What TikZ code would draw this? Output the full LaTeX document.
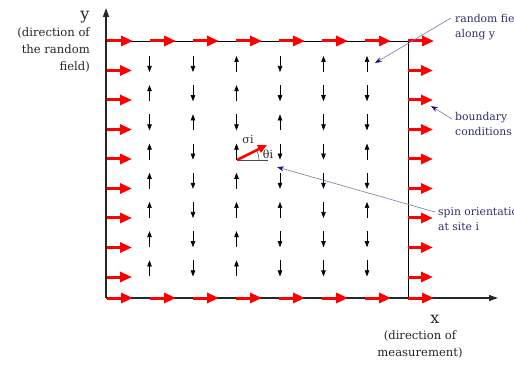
\documentclass[tikz,border=0pt]{standalone}
\usepackage{fontspec}
\setmainfont{DejaVu Serif}
\usetikzlibrary{arrows.meta,positioning}
\definecolor{notetext}{RGB}{45,45,110}
\definecolor{noteline}{RGB}{120,120,170}
\definecolor{notehead}{RGB}{20,20,140}
\tikzset{
  field/.style={draw=red, line width=3pt, -{Triangle[length=12pt,width=10pt]}},
  spin/.style={draw=black, line width=0.6pt, -{Triangle[length=6pt,width=4.5pt]}},
  axis/.style={draw=black!85, line width=1.2pt, -{Triangle[length=9pt,width=6pt]}},
  note/.style={draw=noteline, line width=0.6pt, -{Stealth[length=7pt,width=5pt,color=notehead]}},
  notelbl/.style={text=notetext, align=left, inner sep=0pt, font=\fontsize{10.8}{15.5}\selectfont},
  axislbl/.style={text=black!85, inner sep=0pt, font=\fontsize{11.6}{17}\selectfont},
}

\begin{document}
\begin{tikzpicture}[x=1pt, y=-1pt]
\useasboundingbox (0,0) rectangle (514,366);

%% Axes and the box of the lattice
\coordinate (O) at (106,298);
\coordinate (ytip) at (106,8);
\coordinate (xtip) at (498,298);
\coordinate (tl) at (106,41);
\coordinate (tr) at (408,41);
\coordinate (br) at (408,298);
\draw[axis] (O) -- (ytip);
\draw[axis] (O) -- (xtip);
\draw[black, line width=0.8pt] (tl) -- (tr) -- (br);

%% Boundary field: top and bottom rows
\foreach \k in {0,...,7}{
  \draw[field] ({107+43*\k},41) -- ++(26,0);
  \draw[field] ({107+43*\k},298) -- ++(26,0);
}
%% Boundary field: left and right columns
\foreach \k in {1,...,8}{
  \draw[field] (107,{41+29.5*\k}) -- ++(25,0);
  \draw[field] (408,{41+29.5*\k}) -- ++(25,0);
}

%% Spins on the lattice (1 = up, -1 = down)
\foreach \row [count=\r] in {{-1,-1,1,-1,1,1},{1,-1,1,-1,-1,-1},{-1,1,-1,1,-1,-1},
    {1,-1,1,-1,-1,1},{1,-1,1,-1,-1,-1},{1,-1,1,1,-1,1},
    {1,-1,1,-1,-1,-1},{1,-1,1,-1,-1,-1}}{
  \foreach \d [count=\c] in \row{
    \draw[spin] ({106+43.5*\c}, {64+29.2*(\r-1)+8*(\d)}) -- ++(0,{-16*(\d)});
  }
}

%% Spin at site i
\coordinate (site) at (237,160);
\coordinate (sigtip) at (267,145);
\coordinate (ref) at (268,160);
\draw[black!70, line width=0.5pt] (site) -- (ref);
\draw[black!70, line width=0.5pt] (259,160) arc[start angle=0, end angle=26.6, radius=22pt];
\draw[red, line width=2.5pt, -{Triangle[length=9pt,width=8pt]}] (site) -- (sigtip);
\node[axislbl, font=\fontsize{11}{12}\selectfont] (siglbl) at (248,140) {σi};
\node[axislbl, font=\fontsize{11}{12}\selectfont] (thlbl) at (268,154) {θi};

%% Axis labels
\node[axislbl, font=\fontsize{16}{16}\selectfont] (ylbl) at (85,17) {y};
\node[axislbl, align=right, anchor=north east] (ytxt) at (90,27) {(direction of\\the random\\field)};
\node[axislbl, font=\fontsize{16}{16}\selectfont] (xlbl) at (435,319) {x};
\node[axislbl, align=center, anchor=north] (xtxt) at (420,330) {(direction of\\measurement)};

%% Annotations
\node[notelbl, anchor=north west] (fieldtxt) at (455,14) {random field\\along y};
\node[notelbl, anchor=north west] (bndtxt) at (455,112) {boundary\\conditions};
\node[notelbl, anchor=north west] (spintxt) at (438,207) {spin orientation\\at site i};
\coordinate (fieldtip) at (375,63);
\coordinate (bndtip) at (431,106);
\coordinate (spintip) at (277,167);
\draw[note] ([shift={(-4pt,-4pt)}]fieldtxt.north west) -- (fieldtip);
\draw[note] ([shift={(-3pt,-7pt)}]bndtxt.north west) -- (bndtip);
\draw[note] ([shift={(-3pt,-5pt)}]spintxt.north west) -- (spintip);

\end{tikzpicture}
\end{document}
